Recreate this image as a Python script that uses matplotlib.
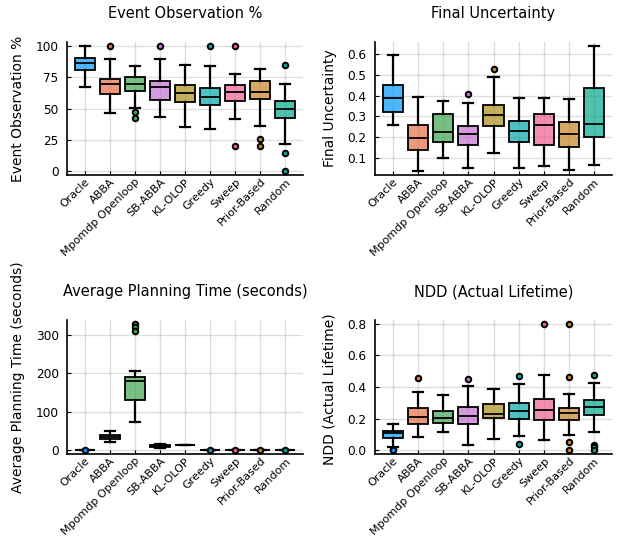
import matplotlib
matplotlib.use("Agg")
import matplotlib.pyplot as plt
from matplotlib.colors import to_rgba

methods = ["Oracle", "ABBA", "Mpomdp Openloop", "SB-ABBA", "KL-OLOP",
           "Greedy", "Sweep", "Prior-Based", "Random"]
colors = ["#009AFA", "#E36F47", "#3EA44E", "#C371D2", "#AC8D18",
          "#00A9AD", "#ED5E93", "#C68225", "#00A98D"]

# [whisker low, q1, median, q3, whisker high] per method
obs_box = [[67.5, 81, 86, 90, 100],
           [46.3, 61.6, 69.3, 73.8, 89.4],
           [50.3, 64.3, 69.3, 75.1, 83.9],
           [43.1, 57.1, 66.9, 72.2, 89.4],
           [34.9, 55.3, 62.7, 68.8, 84.9],
           [33.3, 52.6, 59.3, 66.7, 83.9],
           [41.3, 55.8, 63.2, 69.0, 77.8],
           [35.7, 57.4, 63.5, 72.2, 81.7],
           [21.7, 42.1, 50.0, 55.6, 69.3]]
obs_out = [[], [100], [47.4, 42.6], [100], [], [100], [100, 20.4],
           [25.4, 20.4], [84.7, 14.6, 0]]

unc_box = [[0.259, 0.319, 0.386, 0.450, 0.595],
           [0.034, 0.137, 0.195, 0.259, 0.394],
           [0.100, 0.176, 0.225, 0.312, 0.375],
           [0.050, 0.161, 0.216, 0.251, 0.364],
           [0.124, 0.253, 0.306, 0.356, 0.491],
           [0.052, 0.174, 0.227, 0.277, 0.386],
           [0.060, 0.161, 0.259, 0.311, 0.389],
           [0.039, 0.150, 0.216, 0.270, 0.385],
           [0.066, 0.200, 0.264, 0.436, 0.640]]
unc_out = [[], [], [], [0.410], [0.529], [], [], [], []]

time_box = [[0.1, 0.2, 0.3, 0.4, 0.6],
            [20.7, 28.4, 34.5, 39.7, 50.9],
            [74, 131, 181, 190.5, 206],
            [5.2, 8.6, 11.2, 13.8, 15.5],
            [14.7, 14.7, 14.7, 14.7, 14.7],
            [0.05, 0.1, 0.15, 0.2, 0.3],
            [0.05, 0.1, 0.15, 0.2, 0.3],
            [0.05, 0.1, 0.15, 0.2, 0.3],
            [0.05, 0.1, 0.15, 0.2, 0.3]]
time_out = [[0.9], [], [329, 322, 311], [], [], [0.6], [0.6], [0.6], [0.6]]

ndd_box = [[0.023, 0.080, 0.108, 0.120, 0.163],
           [0.082, 0.169, 0.211, 0.264, 0.367],
           [0.114, 0.175, 0.205, 0.247, 0.348],
           [0.030, 0.167, 0.215, 0.272, 0.407],
           [0.074, 0.203, 0.232, 0.293, 0.390],
           [0.087, 0.196, 0.247, 0.298, 0.416],
           [0.063, 0.192, 0.255, 0.323, 0.477],
           [0.095, 0.190, 0.234, 0.264, 0.353],
           [0.116, 0.222, 0.272, 0.317, 0.424]]
ndd_out = [[0.008, 0.0], [0.456], [], [0.450], [], [0.471, 0.038],
           [0.8], [0.8, 0.462, 0.055, 0.0], [0.477, 0.032, 0.019, 0.0]]

panels = [
    ("Event Observation %", "Event Observation %", obs_box, obs_out,
     [0, 25, 50, 75, 100], None, (-3, 103)),
    ("Final Uncertainty", "Final Uncertainty", unc_box, unc_out,
     [0.1, 0.2, 0.3, 0.4, 0.5, 0.6], None, (0.016, 0.659)),
    ("Average Planning Time (seconds)", "Average Planning Time (seconds)",
     time_box, time_out, [0, 100, 200, 300], None, (-9.9, 339)),
    ("NDD (Actual Lifetime)", "NDD (Actual Lifetime)", ndd_box, ndd_out,
     [0.0, 0.2, 0.4, 0.6, 0.8], ["0.0", "0.2", "0.4", "0.6", "0.8"],
     (-0.024, 0.824)),
]

W, H = 618, 541
rects = [(67, 42, 303, 175), (375, 42, 612, 175),
         (67, 320, 303, 454), (375, 320, 612, 454)]
# y label placement: (pixels left of the axis, centre as axes fraction)
label_pos = [(42, 0.5), (38, 0.5), (42, 0.575), (38, 0.48)]

fig = plt.figure(figsize=(W / 100, H / 100), dpi=100)

for (title, ylab, box, out, yt, ytl, ylim), (x0, y0, x1, y1), (lx, ly) in zip(panels, rects, label_pos):
    ax = fig.add_axes([x0 / W, 1 - y1 / H, (x1 - x0) / W, (y1 - y0) / H])
    stats = []
    for m, b, o in zip(methods, box, out):
        stats.append(dict(label=m, whislo=b[0], q1=b[1], med=b[2],
                          q3=b[3], whishi=b[4], fliers=o))
    pos = list(range(1, len(methods) + 1))
    res = ax.bxp(stats, positions=pos, widths=0.8, patch_artist=True,
                 showfliers=False,
                 boxprops=dict(linewidth=1.3, edgecolor="black"),
                 medianprops=dict(color="black", linewidth=1.3),
                 whiskerprops=dict(color="black", linewidth=1.6),
                 capprops=dict(color="black", linewidth=1.6),
                 capwidths=0.4)
    for patch, c in zip(res["boxes"], colors):
        patch.set_facecolor(to_rgba(c, 0.7))
    for p, o, c in zip(pos, out, colors):
        if o:
            ax.scatter([p] * len(o), o, s=16, color=c, edgecolors="black",
                       linewidths=1.4, zorder=4, clip_on=False)
    ax.set_xlim(0.3, 9.7)
    ax.set_ylim(*ylim)
    ax.set_yticks(yt)
    if ytl:
        ax.set_yticklabels(ytl)
    ax.set_xticks(pos)
    ax.set_xticklabels(methods, rotation=45, ha="right",
                       rotation_mode="anchor", fontsize=8)
    ax.tick_params(axis="both", direction="in", length=3, width=0.8)
    ax.tick_params(axis="y", labelsize=8.7, pad=6)
    ax.tick_params(axis="x", pad=1)
    ax.grid(True, color="black", alpha=0.13, linewidth=1.0)
    ax.set_axisbelow(True)
    for s in ["top", "right"]:
        ax.spines[s].set_visible(False)
    for s in ["left", "bottom"]:
        ax.spines[s].set_linewidth(1.2)
    ax.set_title(title, fontsize=10.5, pad=17)
    ax.set_ylabel(ylab, fontsize=10)
    ax.yaxis.set_label_coords(-lx / (x1 - x0), ly)

fig.savefig("out.png", dpi=100)
